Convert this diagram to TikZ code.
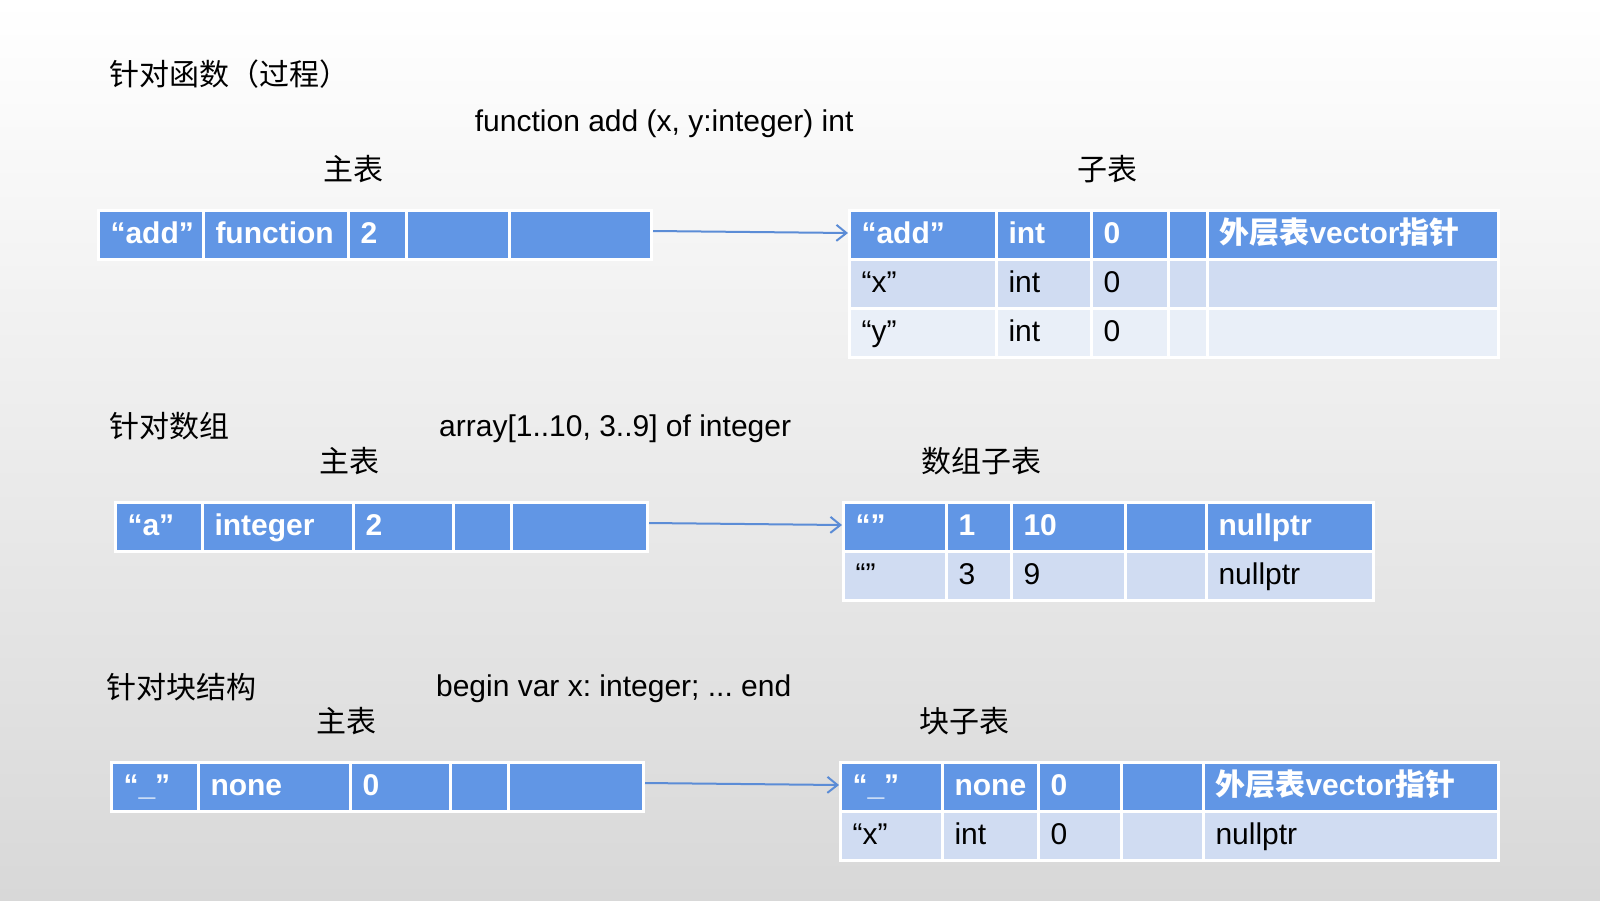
\documentclass[tikz,border=0pt]{standalone}
\usepackage{fontspec}
\setmainfont{Liberation Sans}
\newfontfamily\cjk{Noto Sans CJK SC}
\usetikzlibrary{positioning, arrows.meta}
\definecolor{hdr}{RGB}{97,150,229}
\definecolor{rowa}{RGB}{208,220,242}
\definecolor{rowb}{RGB}{233,239,248}
\definecolor{arrblue}{RGB}{91,140,214}
\definecolor{bgbot}{RGB}{216,216,216}

\begin{document}
\begin{tikzpicture}[x=0.5pt, y=-0.5pt, cell/.style={rectangle, draw=white, line width=1.5pt, anchor=north west, inner xsep=6pt, inner ysep=0pt, minimum height=24.5pt, text height=11pt, text depth=3pt, align=left, minimum width=#1*0.5pt, text width=#1*0.5pt-12pt}]
    \tikzset{hcell/.style={cell=#1, fill=hdr, text=white, font=\bfseries}}
    \tikzset{bcell/.style={cell=#1, text=black}}
    \tikzset{title/.style={anchor=west, inner sep=0pt, font=\cjk}, tag/.style={inner sep=0pt, font=\cjk}, decl/.style={anchor=west, inner sep=0pt}}
    \tikzset{link/.style={draw=arrblue, line width=1pt, -{Straight Barb[length=5pt, width=8pt]}}}
    \fontsize{15pt}{18pt}\selectfont\frenchspacing
    \useasboundingbox (0,0) rectangle (1600,900);
    \shade[top color=white, bottom color=bgbot] (0,0) rectangle (1600,900);

    % function
    \node[title] (t1) at (109,74.5) {针对函数（过程）};
    \node[decl] (d1) at (474.5,124) {function add (x, y:integer) int};
    \node[tag] (m1) at (353,169.4) {主表};
    \node[tag] (s1) at (1107,169.4) {子表};
    \foreach \x/\w/\t [count=\i] in {97/105/“add”, 202/145/function, 347/58/2, 405/103/{}, 508/142/{}}
    \node[hcell=\w] (fm\i) at (\x,209) {\t};
    \foreach \x/\w/\t [count=\i] in {848/147/“add”, 995/95/int, 1090/77/0, 1167/39/{}, 1206/291/{{\cjk 外层表}vector{\cjk 指针}}}
    \node[hcell=\w] (fs1\i) at (\x,209) {\t};
    \foreach \x/\w/\t [count=\i] in {848/147/“x”, 995/95/int, 1090/77/0, 1167/39/{}, 1206/291/{}}
    \node[bcell=\w, fill=rowa] (fs2\i) at (\x,258) {\t};
    \foreach \x/\w/\t [count=\i] in {848/147/“y”, 995/95/int, 1090/77/0, 1167/39/{}, 1206/291/{}}
    \node[bcell=\w, fill=rowb] (fs3\i) at (\x,307) {\t};
    \draw[link] ([yshift=2pt]fm5.east) -- ([yshift=1pt]fs11.west);

    % array
    \node[title] (t2) at (109,426.5) {针对数组};
    \node[decl] (d2) at (438.8,429) {array[1..10, 3..9] of integer};
    \node[tag] (m2) at (349,461) {主表};
    \node[tag] (s2) at (981.6,461) {数组子表};
    \foreach \x/\w/\t [count=\i] in {114/87/“a”, 201/151/integer, 352/100/2, 452/58/{}, 510/136/{}}
    \node[hcell=\w] (am\i) at (\x,501) {\t};
    \foreach \x/\w/\t [count=\i] in {842/103/“”, 945/65/1, 1010/113.5/10, 1123.5/81.5/{}, 1205/167/nullptr}
    \node[hcell=\w] (as1\i) at (\x,501) {\t};
    \foreach \x/\w/\t [count=\i] in {842/103/“”, 945/65/3, 1010/113.5/9, 1123.5/81.5/{}, 1205/167/nullptr}
    \node[bcell=\w, fill=rowa] (as2\i) at (\x,550) {\t};
    \draw[link] ([yshift=2pt]am5.east) -- ([yshift=1pt]as11.west);

    % block
    \node[title] (t3) at (106,686.7) {针对块结构};
    \node[decl] (d3) at (435.7,689) {begin var x: integer; ... end};
    \node[tag] (m3) at (346,721.4) {主表};
    \node[tag] (s3) at (964,721.4) {块子表};
    \foreach \x/\w/\t [count=\i] in {110/87/“\_”, 197/152/none, 349/100/0, 449/58/{}, 507/135/{}}
    \node[hcell=\w] (bm\i) at (\x,761) {\t};
    \foreach \x/\w/\t [count=\i] in {839/102/“\_”, 941/96/none, 1037/83/0, 1120/82/{}, 1202/295/{{\cjk 外层表}vector{\cjk 指针}}}
    \node[hcell=\w] (bs1\i) at (\x,761) {\t};
    \foreach \x/\w/\t [count=\i] in {839/102/“x”, 941/96/int, 1037/83/0, 1120/82/{}, 1202/295/nullptr}
    \node[bcell=\w, fill=rowa] (bs2\i) at (\x,810) {\t};
    \draw[link] ([yshift=2pt]bm5.east) -- ([yshift=1pt]bs11.west);
\end{tikzpicture}
\end{document}
